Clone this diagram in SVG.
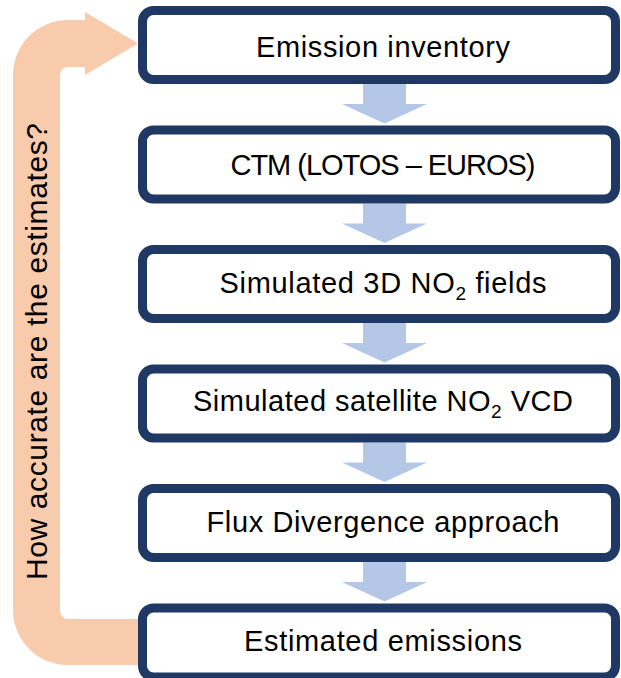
<svg xmlns="http://www.w3.org/2000/svg" width="621" height="678" viewBox="0 0 621 678">
<style>
.box{fill:#ffffff;stroke:#1f3864;stroke-width:9}
.lbl{font-family:"Liberation Sans",Arial,sans-serif;font-size:29px;fill:#000000;text-anchor:middle}
.dn{fill:#b4c7e7}
.loop{fill:#f8cbad}
</style>
<defs>
<polygon id="down" class="dn" points="363,0 406,0 406,20 427,20 384.5,39.5 342,20 363,20"/>
</defs>
<g id="connectors">
<path id="feedback" class="loop" d="M138,43.5 L85,75 L85,67 L68,67 A8,8 0 0 0 60,75 L60,611 A8,8 0 0 0 68,619 L142,619 L142,665 L68,665 A55,55 0 0 1 13,610 L13,75 A55,55 0 0 1 68,20 L85,20 L85,12 Z"/>
<use href="#down" y="84"/>
<use href="#down" y="203.5"/>
<use href="#down" y="323"/>
<use href="#down" y="442.5"/>
<use href="#down" y="562"/>
<text class="lbl" style="font-size:30px" transform="translate(47,351.5) rotate(-90)" x="0" y="0" textLength="457">How accurate are the estimates?</text>
</g>
<g id="n1"><rect class="box" x="142.5" y="10.5" width="473" height="69" rx="11"/><text class="lbl" x="383" y="56.5" textLength="254">Emission inventory</text></g>
<g id="n2"><rect class="box" x="142.5" y="130" width="473" height="69" rx="11"/><text class="lbl" x="383" y="175" textLength="305">CTM (LOTOS – EUROS)</text></g>
<g id="n3"><rect class="box" x="142.5" y="249.5" width="473" height="69" rx="11"/><text class="lbl" x="383" y="293" textLength="327">Simulated 3D NO<tspan dy="7" font-size="19">2</tspan><tspan dy="-7"> fields</tspan></text></g>
<g id="n4"><rect class="box" x="142.5" y="369" width="473" height="69" rx="11"/><text class="lbl" x="383" y="411" textLength="380">Simulated satellite NO<tspan dy="7" font-size="19">2</tspan><tspan dy="-7"> VCD</tspan></text></g>
<g id="n5"><rect class="box" x="142.5" y="488.5" width="473" height="69" rx="11"/><text class="lbl" x="383" y="532" textLength="353">Flux Divergence approach</text></g>
<g id="n6"><rect class="box" x="142.5" y="608" width="473" height="69" rx="11"/><text class="lbl" x="383" y="651" textLength="278">Estimated emissions</text></g>
</svg>
